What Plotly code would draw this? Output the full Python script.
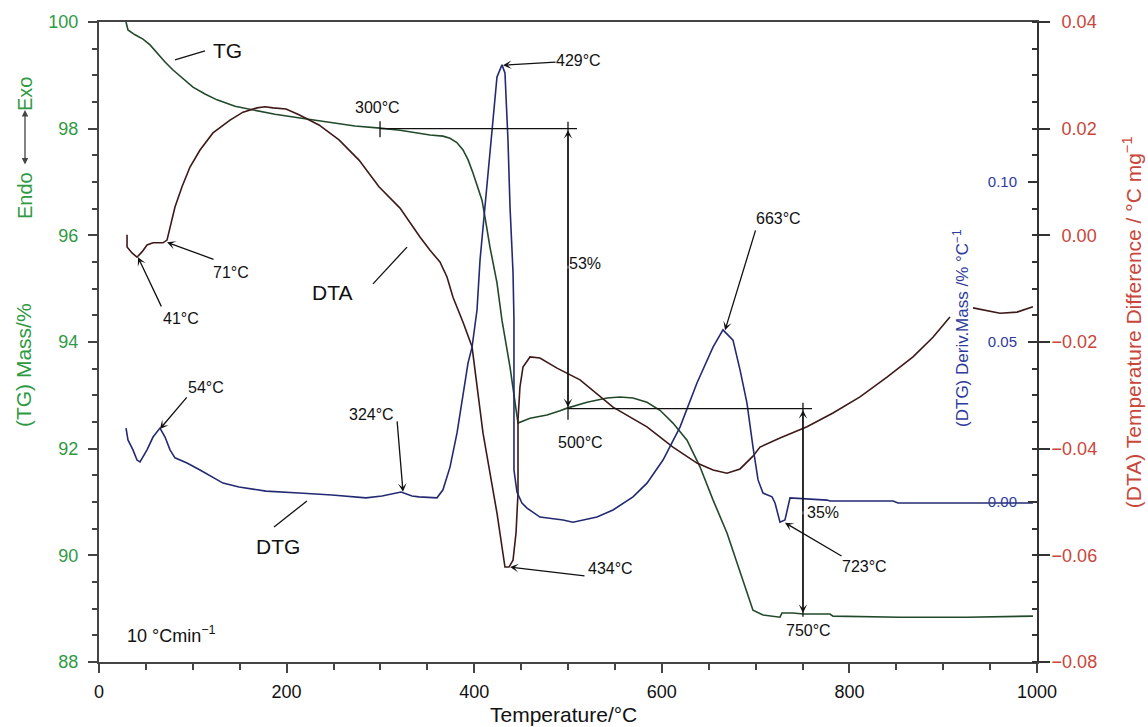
import plotly.graph_objects as go

# ---------------- data ----------------
tg_temp = [28.8, 30.9, 38.4, 46.9, 54.4, 61.8, 70.4, 78.9, 89.6, 100.2, 113.0, 125.8, 145.0,
           164.2, 187.6, 214.3, 249.5, 272.9, 299.6, 320.9, 352.9, 366.7, 374.2, 381.5, 388.1,
           393.6, 398.7, 408.3, 411.5, 416.8, 424.3, 429.6, 438.2, 445.6, 446.7, 459.5, 477.6,
           491.5, 499.0, 520.3, 541.6, 555.4, 569.3, 584.2, 598.1, 611.9, 626.9, 640.7, 654.6,
           669.5, 680.2, 690.8, 697.2, 707.9, 726.0, 728.1, 739.9, 750.5, 779.3, 782.5, 853.9,
           925.4, 995.7]
tg_mass = [100.00, 99.85, 99.76, 99.68, 99.57, 99.42, 99.25, 99.10, 98.93, 98.78, 98.65, 98.54,
           98.42, 98.35, 98.27, 98.20, 98.11, 98.05, 98.01, 97.97, 97.88, 97.86, 97.82, 97.74,
           97.60, 97.41, 97.17, 96.66, 96.34, 95.78, 95.11, 94.41, 93.53, 92.67, 92.48, 92.57,
           92.63, 92.71, 92.76, 92.87, 92.95, 92.97, 92.95, 92.87, 92.72, 92.48, 92.16, 91.66,
           91.04, 90.42, 89.86, 89.29, 88.97, 88.88, 88.84, 88.92, 88.92, 88.90, 88.90, 88.86,
           88.84, 88.84, 88.86]

dtg_temp = [28.8, 30.9, 36.2, 40.5, 43.7, 51.2, 57.6, 65.0, 70.4, 75.7, 81.0, 93.8, 107.7,
            121.5, 132.2, 149.3, 178.0, 213.2, 248.4, 284.6, 301.7, 322.0, 333.7, 341.2, 360.3,
            366.7, 374.2, 381.7, 388.1, 393.4, 397.7, 403.0, 406.2, 411.5, 419.0, 424.3, 429.6,
            432.8, 436.0, 438.2, 441.4, 442.4, 442.4, 442.4, 445.6, 450.9, 456.3, 470.1, 494.7,
            505.3, 530.9, 548.0, 569.3, 584.2, 601.3, 619.4, 637.5, 654.6, 665.2, 675.9, 683.4,
            690.8, 697.2, 702.6, 707.9, 717.5, 720.7, 726.0, 731.3, 736.7, 776.1, 779.3, 846.5,
            851.8, 995.7]
dtg_value = [0.0231, 0.0194, 0.0163, 0.0131, 0.0125, 0.0163, 0.0203, 0.0231, 0.0203, 0.0163,
             0.0138, 0.0122, 0.0100, 0.0078, 0.0059, 0.0047, 0.0034, 0.0028, 0.0022, 0.0013,
             0.0019, 0.0031, 0.0019, 0.0016, 0.0013, 0.0038, 0.0109, 0.0216, 0.0341, 0.0434,
             0.0484, 0.0600, 0.0756, 0.0922, 0.1163, 0.1328, 0.1366, 0.1341, 0.1131, 0.0922,
             0.0716, 0.0569, 0.0319, 0.0100, 0.0031, -0.0003, -0.0019, -0.0047, -0.0056, -0.0063,
             -0.0047, -0.0025, 0.0016, 0.0059, 0.0131, 0.0234, 0.0372, 0.0484, 0.0538, 0.0506,
             0.0413, 0.0309, 0.0172, 0.0069, 0.0028, 0.0016, -0.0003, -0.0063, -0.0056, 0.0013,
             0.0006, 0.0003, 0.0003, -0.0003, -0.0003]

dta_temp = [29.9, 29.9, 35.2, 40.5, 45.8, 51.2, 57.6, 68.2, 72.5, 75.7, 81.0, 88.5, 97.0, 107.7,
            121.5, 139.7, 153.5, 168.4, 177.0, 185.5, 199.4, 213.2, 234.5, 255.9, 277.2, 298.5,
            320.9, 342.2, 352.9, 363.5, 371.0, 377.4, 388.1, 397.7, 409.4, 424.3, 432.8, 437.1,
            441.4, 444.6, 446.7, 446.7, 448.8, 452.0, 459.5, 470.1, 488.3, 512.8, 548.0, 584.2,
            611.9, 637.5, 654.6, 669.5, 683.4, 697.2, 704.7, 726.0, 754.8, 782.5, 811.3, 840.1,
            867.8, 889.1, 907.2, None, 931.8, 960.6, 978.7, 995.7]
dta_value = [0.0001, -0.0022, -0.0033, -0.0041, -0.0031, -0.0018, -0.0014, -0.0014, -0.0009,
             0.0016, 0.0053, 0.0091, 0.0128, 0.0160, 0.0192, 0.0216, 0.0231, 0.0239, 0.0241,
             0.0239, 0.0237, 0.0226, 0.0207, 0.0179, 0.0141, 0.0091, 0.0051, -0.0003, -0.0028,
             -0.0050, -0.0078, -0.0116, -0.0163, -0.0209, -0.0371, -0.0521, -0.0622, -0.0622,
             -0.0609, -0.0558, -0.0483, -0.0346, -0.0284, -0.0247, -0.0228, -0.0230, -0.0249,
             -0.0271, -0.0322, -0.0359, -0.0397, -0.0427, -0.0440, -0.0446, -0.0438, -0.0414,
             -0.0397, -0.0380, -0.0359, -0.0333, -0.0303, -0.0266, -0.0228, -0.0191, -0.0153,
             None, -0.0136, -0.0146, -0.0144, -0.0134]

x_ticks = [0, 200, 400, 600, 800, 1000]
x_tick_text = ["0", "200", "400", "600", "800", "1000"]
tg_ticks = [88, 90, 92, 94, 96, 98, 100]
tg_tick_text = ["88", "90", "92", "94", "96", "98", "100"]
dta_ticks = [-0.08, -0.06, -0.04, -0.02, 0.00, 0.02, 0.04]
dta_tick_text = ["\u22120.08", "\u22120.06", "\u22120.04", "\u22120.02",
                 "\u20070.00", "\u20070.02", "\u20070.04"]
dtg_ticks = [0.00, 0.05, 0.10]
dtg_tick_text = ["0.00", "0.05", "0.10"]

# ---------------- styling ----------------
FONT = "Liberation Sans, Arial, Helvetica, sans-serif"
GREEN = "#2f9a44"
RED = "#c9463a"
BLUE = "#2e3a9c"
TG_COL = "#22492a"
DTA_COL = "#3e1919"
DTG_COL = "#232a72"
INK = "#111111"

fig = go.Figure()
fig.add_trace(go.Scatter(x=tg_temp, y=tg_mass, mode="lines", name="TG",
                         line=dict(color=TG_COL, width=1.6), yaxis="y"))
fig.add_trace(go.Scatter(x=dta_temp, y=dta_value, mode="lines", name="DTA",
                         line=dict(color=DTA_COL, width=1.6), yaxis="y2", connectgaps=False))
fig.add_trace(go.Scatter(x=dtg_temp, y=dtg_value, mode="lines", name="DTG",
                         line=dict(color=DTG_COL, width=1.6), yaxis="y3"))

annotations = []

def label(text, x, y, size=16, xanchor="center"):
    annotations.append(dict(text=text, x=x, y=y, xref="x", yref="y", showarrow=False,
                            xanchor=xanchor, yanchor="middle",
                            font=dict(family=FONT, size=size, color=INK)))

def arrow(tip_x, tip_y, tail_x, tail_y):
    annotations.append(dict(text="", x=tip_x, y=tip_y, ax=tail_x, ay=tail_y,
                            xref="x", yref="y", axref="x", ayref="y", showarrow=True,
                            arrowhead=3, arrowsize=1.1, arrowwidth=1.3, arrowcolor=INK))

label("TG", 137.5, 99.47, 21)
label("300°C", 296.4, 98.39)
label("429°C", 511.2, 99.27)
label("53%", 518.1, 95.48)
label("500°C", 513.3, 92.11)
label("434°C", 544.8, 89.76)
label("41°C", 87.4, 94.45)
label("71°C", 140.7, 95.31)
label("DTA", 248.4, 94.92, 21)
label("DTG", 190.8, 90.16, 21)
label("54°C", 114.1, 93.14)
label("324°C", 291.0, 92.65)
label("663°C", 723.9, 96.31)
label("35%", 771.8, 90.81)
label("723°C", 816.6, 89.80)
label("750°C", 756.9, 88.60)
label("10 °Cmin<sup>\u22121</sup>", 27.7, 88.51, 18, xanchor="left")

arrow(430.7, 99.19, 488.3, 99.25)
arrow(438.2, 89.78, 519.2, 89.61)
arrow(41.6, 95.59, 67.2, 94.64)
arrow(72.5, 95.87, 123.7, 95.54)
arrow(65.0, 92.37, 94.9, 92.99)
arrow(324.1, 91.19, 317.7, 92.54)
arrow(667.4, 94.22, 700.4, 96.12)
arrow(731.3, 90.61, 793.2, 89.97)
arrow(500, 97.97, 500, 95.4)
arrow(500, 92.78, 500, 95.4)
arrow(750.5, 92.72, 750.5, 90.8)
arrow(750.5, 88.92, 750.5, 90.8)

shapes = []

def seg(x0, y0, x1, y1):
    shapes.append(dict(type="line", xref="x", yref="y", x0=x0, y0=y0, x1=x1, y1=y1,
                       line=dict(color=INK, width=1.3)))

seg(81.0, 99.29, 113.0, 99.46)      # TG leader
seg(292.1, 95.09, 328.4, 95.78)     # DTA leader
seg(186.6, 90.53, 221.7, 91.02)     # DTG leader
seg(299.6, 98.14, 299.6, 97.84)     # 300 °C tick
seg(299.6, 98.0, 509.6, 98.0)       # 98 % level
seg(500, 98.13, 500, 92.54)         # 53 % shaft
seg(500, 92.75, 760.1, 92.75)       # 500 °C level
seg(750.5, 92.86, 750.5, 88.85)     # 35 % shaft

# axis titles & side labels (paper coords)
def side_text(text, x, y, color, size, angle=-90):
    annotations.append(dict(text=text, x=x, y=y, xref="paper", yref="paper", showarrow=False,
                            textangle=angle, xanchor="center", yanchor="middle",
                            font=dict(family=FONT, size=size, color=color)))

side_text("(TG) Mass/%", -0.081, 0.464, GREEN, 21)
side_text("Endo", -0.0789, 0.7297, GREEN, 20)
side_text("Exo", -0.0789, 0.8875, GREEN, 20)
annotations.append(dict(text="", x=-0.0789, y=0.8625, xref="paper", yref="paper",
                        ax=0, ay=56, showarrow=True, arrowside="end+start",
                        arrowhead=2, startarrowhead=2, arrowsize=1, arrowwidth=1.3,
                        arrowcolor="#444444"))
side_text("(DTG) Deriv.Mass /% °C<sup>\u22121</sup>", 0.919, 0.522, BLUE, 17)
side_text("(DTA) Temperature Difference / °C mg<sup>\u22121</sup>", 1.1013, 0.531, RED, 21)
side_text("Temperature/°C", 0.4957, -0.0828, INK, 21, angle=0)

fig.update_layout(
    width=1148, height=727,
    margin=dict(l=99, r=111, t=22, b=65, autoexpand=False),
    paper_bgcolor="white", plot_bgcolor="white",
    showlegend=False,
    font=dict(family=FONT, color=INK),
    xaxis=dict(range=[0, 1000], tickvals=x_ticks, ticktext=x_tick_text, automargin=False,
               ticks="outside", ticklen=9, tickwidth=1.5, tickcolor="#444444",
               tickfont=dict(family=FONT, size=18, color=INK), ticklabelstandoff=3,
               minor=dict(dtick=50, tick0=0, ticks="outside", ticklen=6, tickwidth=1.5,
                          tickcolor="#444444"),
               showline=True, linecolor="#444444", linewidth=2, mirror=True,
               showgrid=False, zeroline=False),
    yaxis=dict(range=[88, 100], tickvals=tg_ticks, ticktext=tg_tick_text, automargin=False,
               ticks="outside", ticklen=9, tickwidth=1.5, tickcolor="#444444",
               tickfont=dict(family=FONT, size=18, color=GREEN), ticklabelstandoff=6,
               minor=dict(dtick=0.5, tick0=88, ticks="outside", ticklen=5, tickwidth=1.5,
                          tickcolor="#444444"),
               showline=True, linecolor="#444444", linewidth=2,
               showgrid=False, zeroline=False),
    yaxis2=dict(range=[-0.08, 0.04], overlaying="y", side="right", automargin=False,
                tickvals=dta_ticks, ticktext=dta_tick_text,
                ticks="outside", ticklen=11, tickwidth=1.5, tickcolor="#333333",
                tickfont=dict(family=FONT, size=18, color=RED), ticklabelstandoff=-2,
                minor=dict(dtick=0.005, tick0=-0.08, ticks="inside", ticklen=5, tickwidth=1.5,
                           tickcolor="#333333"),
                showline=True, linecolor="#333333", linewidth=2,
                showgrid=False, zeroline=False),
    yaxis3=dict(range=[-0.05, 0.15], overlaying="y", anchor="free", position=1.0,
                side="left", tickvals=dtg_ticks, ticktext=dtg_tick_text, automargin=False,
                ticks="outside", ticklen=9, tickwidth=1.5, tickcolor="#333333",
                tickfont=dict(family=FONT, size=15, color=BLUE), ticklabelstandoff=8,
                showline=False, showgrid=False, zeroline=False),
    annotations=annotations,
    shapes=shapes,
)

fig.write_html("out.html", config={"displayModeBar": False},
               post_script="document.body.style.margin='0';document.body.style.overflow='hidden';")
